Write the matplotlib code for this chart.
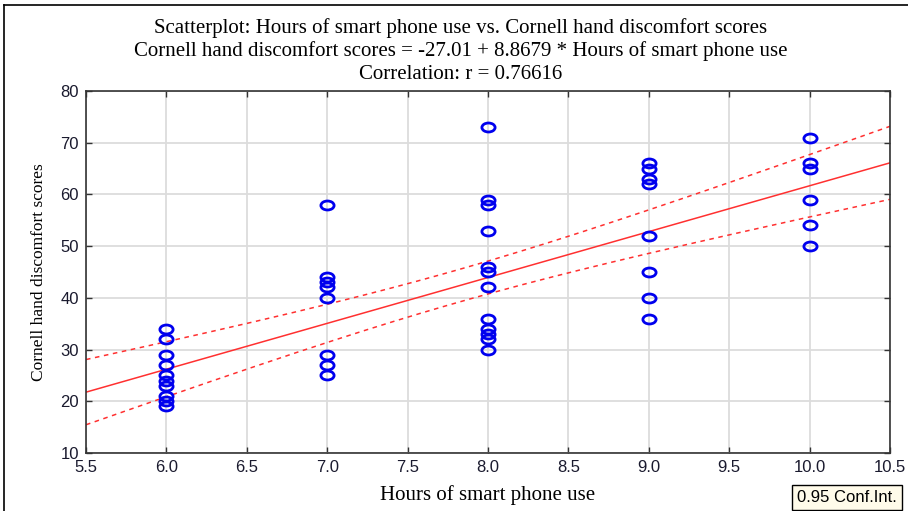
import numpy as np
import matplotlib
matplotlib.use("Agg")
import matplotlib.pyplot as plt
from matplotlib.path import Path
from matplotlib.lines import Line2D

plt.rcParams["font.family"] = ["Liberation Sans", "DejaVu Sans"]

# data
hours_6 = [34, 32, 29, 27, 25, 24, 23, 21, 20, 19]
hours_7 = [58, 44, 43, 42, 40, 29, 27, 25]
hours_8 = [73, 59, 58, 53, 46, 45, 42, 36, 34, 33, 32, 30]
hours_9 = [66, 65, 63, 62, 52, 45, 40, 36]
hours_10 = [71, 66, 65, 59, 54, 50]
hour_levels = [6.0, 7.0, 8.0, 9.0, 10.0]
intercept = -27.01
slope = 8.8679
t_crit = 2.018

groups = [hours_6, hours_7, hours_8, hours_9, hours_10]
x = np.concatenate([[h] * len(g) for h, g in zip(hour_levels, groups)])
y = np.concatenate(groups).astype(float)

# confidence band of the regression line
n = len(x)
resid = y - (intercept + slope * x)
s = np.sqrt(np.sum(resid ** 2) / (n - 2))
sxx = np.sum((x - x.mean()) ** 2)
xs = np.linspace(5.5, 10.5, 200)
fit = intercept + slope * xs
half = t_crit * s * np.sqrt(1.0 / n + (xs - x.mean()) ** 2 / sxx)

fig = plt.figure(figsize=(9.08, 5.11), dpi=100)
ax = fig.add_axes([0.0947, 0.1135, 0.8855, 0.7085])

ax.plot(xs, fit, color="#ff3030", lw=1.1)
ax.plot(xs, fit + half, color="#ff3030", lw=1.1, ls=(0, (3, 3)))
ax.plot(xs, fit - half, color="#ff3030", lw=1.1, ls=(0, (3, 3)))

# slightly flattened circle, as in the reference
circ = Path.unit_circle()
ell = Path(circ.vertices * np.array([1.0, 0.68]), circ.codes)
ax.plot(x, y, ls="none", marker=ell, ms=9.5, mfc="none", mec="#0000ee",
        mew=2.0)

ax.set_xlim(5.5, 10.5)
ax.set_ylim(10, 80)
ax.set_xticks(np.arange(5.5, 10.51, 0.5))
ax.set_yticks(np.arange(10, 81, 10))
ax.set_xticklabels(["{:.1f}".format(v) for v in np.arange(5.5, 10.51, 0.5)])
ax.grid(True, color="#dcdcdc", lw=1.3)
ax.set_axisbelow(True)
ax.tick_params(direction="in", top=True, right=True, length=4, width=1,
               labelsize=12, colors="#333333", labelcolor="#1a1a2e")
ax.tick_params(axis="x", pad=5)
ax.tick_params(axis="y", pad=5)
for sp in ax.spines.values():
    sp.set_color("#333333")
    sp.set_linewidth(1.2)

serif = ["Liberation Serif", "DejaVu Serif"]
ax.set_xlabel("Hours of smart phone use", family=serif, fontsize=15,
              labelpad=7)
ax.set_ylabel("Cornell hand discomfort scores", family=serif, fontsize=12.5,
              labelpad=10)

titles = [
    "Scatterplot: Hours of smart phone use vs. Cornell hand discomfort scores",
    "Cornell hand discomfort scores = -27.01 + 8.8679 * Hours of smart phone use",
    "Correlation: r = 0.76616",
]
for i, t in enumerate(titles):
    fig.text(0.507, 0.945 - i * 0.045, t, family=serif, fontsize=15,
             ha="center", va="center")

fig.text(0.878, 0.012, "0.95 Conf.Int.", fontsize=12, ha="left",
         va="bottom",
         bbox=dict(boxstyle="square,pad=0.3", fc="#fffbea", ec="black",
                   lw=1))

# outer frame of the screenshot
fig.add_artist(Line2D([0.004, 0.004], [0.0, 0.99], color="black", lw=1.2))
fig.add_artist(Line2D([0.004, 1.0], [0.99, 0.99], color="black", lw=1.2))

fig.savefig("out.png", dpi=100)
